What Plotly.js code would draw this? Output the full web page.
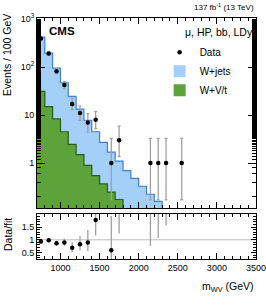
<!DOCTYPE html>
<html><head><meta charset="utf-8">
<script src="https://cdn.plot.ly/plotly-3.0.1.min.js"></script>
<style>html,body{margin:0;padding:0;background:#fff}</style>
</head><body><div id="chart" style="width:266px;height:306px"></div>
<script>
// ---- data ----
const binLow = [700,800,900,1000,1100,1200,1300,1400,1500,1600,1700,1800,1900,2000,2100,2200,2300];
const binWidth = 100;
const wjets = [389,180,86.7,42.5,22.05,11.8,6.9,3.95,2.33,1.45,0.925,0.7,0.48,0.33,0.225,0.16,0.11];
const wvtLow = [700,800,900,1000,1100,1200,1300,1400,1500,1600,1700];
const wvt = [31,15,8.3,4.5,2.45,1.5,0.9,0.55,0.37,0.25,0.175];
const dataX = [750,850,950,1050,1150,1250,1350,1450,1650,1750,2150,2250,2350,2550];
const dataN = [392,191,82,42,17,11,7,8,1,3,1,1,1,1];
const xTickVals = [1000,1500,2000,2500,3000,3500];
const xTickText = ['1000','1500','2000','2500','3000','3500'];
const yTickVals = [1,10,100,1000];
const yTickText = ['1','10','10<sup>2</sup>','10<sup>3</sup>'];
const rTickVals = [0.5,1,1.5];
const rTickText = ['0.5','1','1.5'];

// ---- styling ----
const FONT = 'Liberation Sans, Arial, Helvetica, sans-serif';
const blueFill = '#a4cff8', blueLine = '#3f7fd8';
const greenFill = '#5ea23a', greenLine = '#2a5e16';
const yRangeMain = [-0.934, 3.02];
const yFloor = Math.pow(10, yRangeMain[0] - 1);

// centres
const binC = binLow.map(v => v + binWidth/2);
const wvtC = wvtLow.map(v => v + binWidth/2);
const total = binLow.map((v,i) => {
  const j = wvtLow.indexOf(v);
  return wjets[i] + (j >= 0 ? wvt[j] : 0);
});

// Poisson (Garwood, Wilson-Hilferty approx) errors
function errLo(n){ if(n<=0) return 0; const l = n*Math.pow(1 - 1/(9*n) - 1/(3*Math.sqrt(n)),3); return n - l; }
function errHi(n){ const m=n+1; const u = m*Math.pow(1 - 1/(9*m) + 1/(3*Math.sqrt(m)),3); return u - n; }
const eLo = dataN.map(errLo), eHi = dataN.map(errHi);

// step outlines
const totStepX = binLow.concat([binLow[binLow.length-1]+binWidth]);
const totStepY = total.concat([total[total.length-1]]);
const wvtStepX = wvtLow.concat([wvtLow[wvtLow.length-1]+binWidth, wvtLow[wvtLow.length-1]+binWidth]);
const wvtStepY = wvt.concat([wvt[wvt.length-1], yFloor]);

// ratio
const fitAt = dataX.map(x => { const i = binC.indexOf(x); return i>=0 ? total[i] : null; });
const rX=[], rY=[], rHi=[], rLo=[];
dataX.forEach((x,i)=>{ const f=fitAt[i]; if(f){ rX.push(x); rY.push(dataN[i]/f); rHi.push(eHi[i]/f); rLo.push(eLo[i]/f);} });

const traces = [
  {type:'bar', x:wvtC, y:wvt, width:binWidth, name:'W+V/t', marker:{color:greenFill, line:{width:0}}, xaxis:'x', yaxis:'y', legendrank:3},
  {type:'bar', x:binC, y:wjets, width:binWidth, name:'W+jets', marker:{color:blueFill, line:{width:0}}, xaxis:'x', yaxis:'y', legendrank:2},
  {type:'scatter', mode:'lines', x:totStepX, y:totStepY, line:{shape:'hv', color:blueLine, width:1.2}, showlegend:false, xaxis:'x', yaxis:'y'},
  {type:'scatter', mode:'lines', x:wvtStepX, y:wvtStepY, line:{shape:'hv', color:greenLine, width:1.2}, showlegend:false, xaxis:'x', yaxis:'y'},
  {type:'scatter', mode:'markers', x:dataX, y:dataN, name:'Data', marker:{color:'black', size:4.5},
   error_y:{type:'data', symmetric:false, array:eHi, arrayminus:eLo, color:'#a0a0a0', thickness:1.3, width:1.5},
   xaxis:'x', yaxis:'y', legendrank:1},
  {type:'scatter', mode:'markers', x:rX, y:rY, showlegend:false, marker:{color:'black', size:4.5},
   error_y:{type:'data', symmetric:false, array:rHi, arrayminus:rLo, color:'#a0a0a0', thickness:1.3, width:0},
   xaxis:'x2', yaxis:'y2'}
];

const axBase = {showline:true, linecolor:'black', linewidth:1, mirror:'ticks', ticks:'inside', tickcolor:'black',
  showgrid:false, zeroline:false, tickfont:{family:FONT, size:9, color:'black'}, ticklabeloverflow:'allow'};

const layout = {
  width:266, height:306,
  margin:{l:37, r:10, t:18, b:47},
  paper_bgcolor:'white', plot_bgcolor:'white',
  font:{family:FONT, color:'black'},
  barmode:'stack', bargap:0,
  showlegend:true,
  legend:{x:0.56, y:0.918, xanchor:'left', yanchor:'top', bgcolor:'rgba(0,0,0,0)', font:{family:FONT, size:10}, traceorder:'normal', itemwidth:30},
  xaxis:Object.assign({}, axBase, {domain:[0,1], anchor:'y', range:[700,3500], tickvals:xTickVals, ticktext:xTickText, ticklen:6, showticklabels:false,
     minor:{ticks:'inside', ticklen:3, dtick:100, tick0:0, tickcolor:'black'}}),
  yaxis:Object.assign({}, axBase, {domain:[0.2116,1], anchor:'x', type:'log', range:yRangeMain, tickvals:yTickVals, ticktext:yTickText, ticklen:8,
     minor:{ticks:'inside', ticklen:4, tickcolor:'black'}}),
  xaxis2:Object.assign({}, axBase, {domain:[0,1], anchor:'y2', range:[700,3500], tickvals:xTickVals, ticktext:xTickText, ticklen:6,
     minor:{ticks:'inside', ticklen:3, dtick:100, tick0:0, tickcolor:'black'}}),
  yaxis2:Object.assign({}, axBase, {domain:[0,0.188], anchor:'x2', range:[0.25,2.02], tickvals:rTickVals, ticktext:rTickText, ticklen:5,
     minor:{ticks:'inside', ticklen:3, dtick:0.1, tickcolor:'black'}}),
  shapes:[{type:'line', xref:'x2 domain', yref:'y2', x0:0, x1:1, y0:1, y1:1, line:{color:'#bbbbbb', width:1}, layer:'below'}],
  annotations:[
    {text:'<b>CMS</b>', xref:'paper', yref:'paper', x:0.046, y:0.947, xanchor:'left', yanchor:'middle', showarrow:false, font:{family:FONT, size:11.5}},
    {text:'μ, HP, bb, LDy', xref:'paper', yref:'paper', x:0.995, y:0.942, xanchor:'right', yanchor:'middle', showarrow:false, font:{family:FONT, size:10.5}},
    {text:'137 fb<sup>-1</sup> (13 TeV)', xref:'paper', yref:'paper', x:1, y:1.046, xanchor:'right', yanchor:'middle', showarrow:false, font:{family:FONT, size:8}},
    {text:'Events / 100 GeV', xref:'paper', yref:'paper', x:-0.137, y:1.025, xanchor:'center', yanchor:'top', textangle:-90, showarrow:false, font:{family:FONT, size:10.5}},
    {text:'Data/fit', xref:'paper', yref:'paper', x:-0.132, y:0.10, xanchor:'center', yanchor:'middle', textangle:-90, showarrow:false, font:{family:FONT, size:10.5}},
    {text:'m<sub>WV</sub> (GeV)', xref:'paper', yref:'paper', x:1, y:-0.118, xanchor:'right', yanchor:'middle', showarrow:false, font:{family:FONT, size:10.5}}
  ]
};

Plotly.newPlot('chart', traces, layout, {staticPlot:true, displayModeBar:false});
</script>
</body></html>
